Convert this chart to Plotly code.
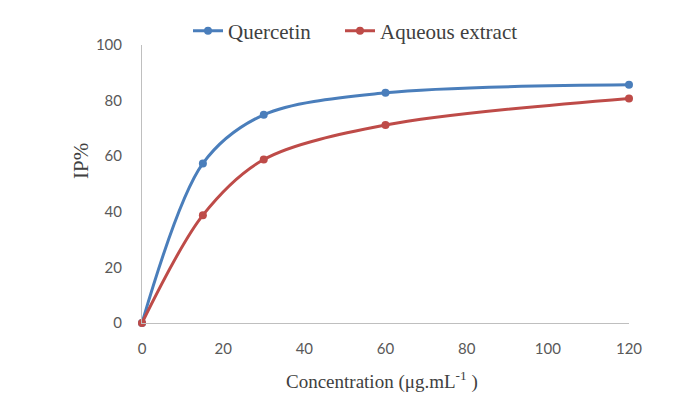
import plotly.graph_objects as go

concentration = [0, 15, 30, 60, 120]
quercetin = [0, 57.4, 74.9, 82.8, 85.7]
aqueous_extract = [0, 38.8, 58.8, 71.2, 80.8]
x_ticks = [0, 20, 40, 60, 80, 100, 120]
y_ticks = [0, 20, 40, 60, 80, 100]

L, R, T, B = 142, 69, 45, 71
W, H = 698, 394
plot_w = W - L - R
plot_h = H - T - B

fig = go.Figure()
fig.add_trace(go.Scatter(
    x=concentration, y=quercetin, name="Quercetin", mode="lines+markers",
    line=dict(color="#4A7EBB", width=3, shape="spline", smoothing=0.9),
    marker=dict(size=8, color="#4A7EBB"), cliponaxis=False, legend="legend"))
fig.add_trace(go.Scatter(
    x=concentration, y=aqueous_extract, name="Aqueous extract", mode="lines+markers",
    line=dict(color="#BE4B48", width=3, shape="spline", smoothing=0.9),
    marker=dict(size=8, color="#BE4B48"), cliponaxis=False, legend="legend2"))

serif = "Liberation Serif, Times New Roman, serif"
tickfont = dict(family="Lato, Open Sans, sans-serif", size=15, color="#595959")
legfont = dict(family=serif, size=21, color="#404040")
fig.update_layout(
    width=W, height=H,
    margin=dict(l=L, r=R, t=T, b=B, autoexpand=False),
    paper_bgcolor="white", plot_bgcolor="white",
    showlegend=True,
    legend=dict(orientation="h", x=(188 - L) / plot_w, xanchor="left",
                y=1 + (T - 31) / plot_h, yanchor="middle",
                font=legfont, bgcolor="rgba(0,0,0,0)"),
    legend2=dict(orientation="h", x=(340 - L) / plot_w, xanchor="left",
                 y=1 + (T - 31) / plot_h, yanchor="middle",
                 font=legfont, bgcolor="rgba(0,0,0,0)"),
    xaxis=dict(range=[0, 120], tickvals=x_ticks, showgrid=False, zeroline=False,
               showline=True, linecolor="#BFBFBF", linewidth=1, ticks="",
               ticklabelstandoff=12, tickfont=tickfont),
    yaxis=dict(range=[0, 100], tickvals=y_ticks, showgrid=False, zeroline=False,
               showline=True, linecolor="#BFBFBF", linewidth=1, ticks="",
               ticklabelstandoff=16, tickfont=tickfont),
    annotations=[
        dict(text="IP%", x=(81 - L) / plot_w, y=(H - B - 161) / plot_h,
             xref="paper", yref="paper", showarrow=False, textangle=-90,
             xanchor="center", yanchor="middle",
             font=dict(family=serif, size=21, color="#404040")),
        dict(text="Concentration (μg.mL<sup>-1</sup> )", x=(382 - L) / plot_w,
             y=-(380 - (H - B)) / plot_h, xref="paper", yref="paper",
             showarrow=False, xanchor="center", yanchor="middle",
             font=dict(family=serif, size=19, color="#404040")),
    ],
)
fig.write_html("out.html")
